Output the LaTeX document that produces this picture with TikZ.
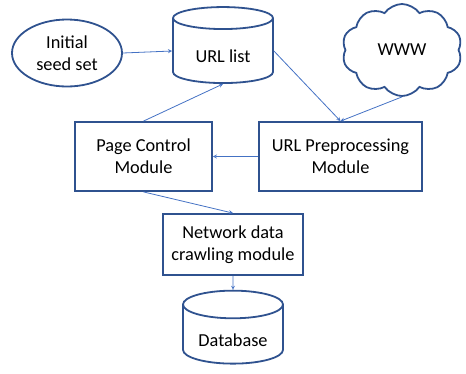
\documentclass[tikz,border=0pt]{standalone}
\usepackage{fontspec}
\setmainfont{Carlito}
\usetikzlibrary{shapes.geometric, shapes.symbols, arrows}
\definecolor{nodeblue}{RGB}{47,82,143}
\definecolor{arrowblue}{RGB}{68,114,196}
\tikzstyle{seed} = [ellipse, minimum width=110pt, minimum height=67pt, inner sep=0pt, align=center, draw=nodeblue, line width=1.8pt]
\tikzstyle{store} = [cylinder, shape border rotate=90, aspect=0.4, minimum width=100pt, minimum height=76pt, inner sep=0pt, text centered, draw=nodeblue, line width=1.8pt]
\tikzstyle{web} = [cloud, cloud puffs=10, cloud puff arc=110, aspect=1.3, minimum width=120pt, minimum height=92pt, inner sep=0pt, draw=nodeblue, line width=1.8pt]
\tikzstyle{module} = [rectangle, minimum height=69pt, align=center, text centered, draw=nodeblue, line width=1.8pt]
\tikzstyle{arrow} = [->,>=stealth, draw=arrowblue, line width=0.8pt]

\begin{document}
\begin{tikzpicture}[x=1pt, y=-1pt, font=\fontsize{18.3}{22}\selectfont]
				\useasboundingbox (0,0) rectangle (466,373);
				\node (seed) [seed] at (67,53) {Initial \\ seed set};
				\node (urllist) [store] at (223,51) {\raisebox{-5pt}[\height][\depth]{URL list}};
				\node (www) [web] at (402,50) {WWW};
				\node (pagectrl) [module, minimum width=137pt] at (143.5,156.5) {Page Control \\ Module};
				\node (preproc) [module, minimum width=163pt] at (340.5,156.5) {URL Preprocessing \\ Module};
				\node (crawl) [module, minimum width=140pt, minimum height=61pt] at (233,244.5) {Network data \\ crawling module};
				\node (db) [store, minimum height=73pt] at (233,334.5) {\raisebox{-6pt}[\height][\depth]{Database}};	% cut off at bottom

				\draw [arrow] (seed.east) -- (urllist.west);
				\draw [arrow] (urllist.east) -- (preproc.north);
				\draw [arrow] (www.south) -- (preproc.north);
				\draw [arrow] (preproc.west) -- (pagectrl.east);
				\draw [arrow] (pagectrl.north) -- (urllist.south);
				\draw [arrow] (pagectrl.south) -- (crawl.north);
				\draw [arrow] (crawl.south) -- (db.north);
		\end{tikzpicture}
\end{document}
